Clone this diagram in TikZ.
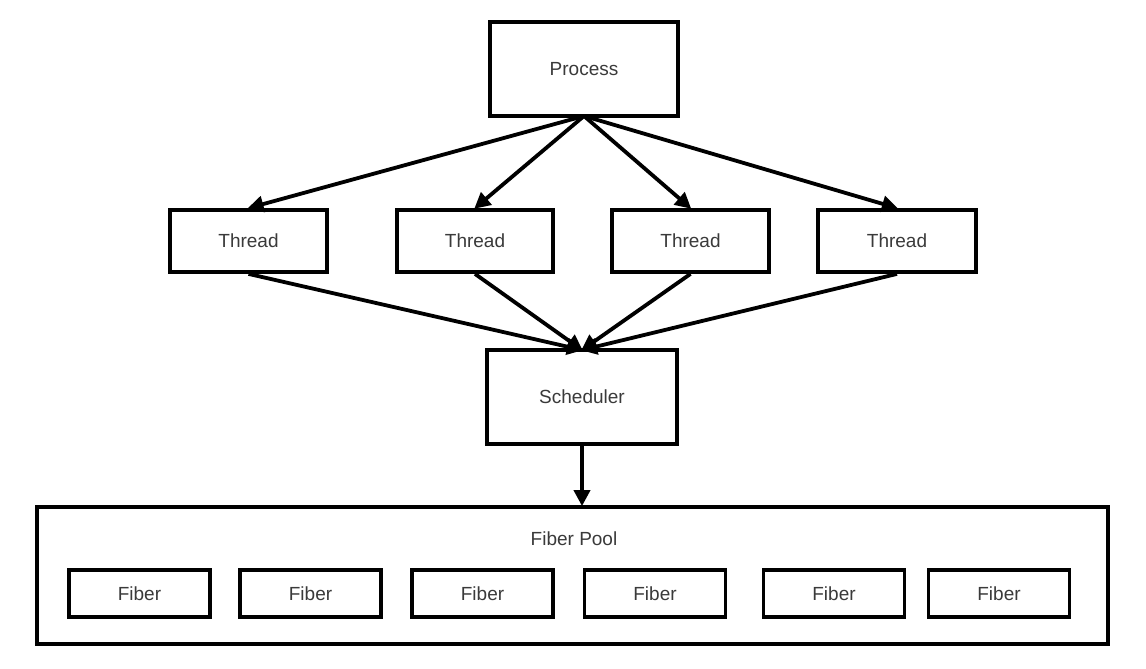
\documentclass[tikz,border=0pt]{standalone}
\usepackage{fontspec}
\setmainfont{Liberation Sans}
\usetikzlibrary{arrows.meta}
\definecolor{txt}{HTML}{3A3A3A}
\tikzset{
  box/.style={draw=black, line width=3.8pt, fill=white, inner sep=0pt, font=\fontsize{19}{21}\selectfont, text=txt},
  conn/.style={line width=3.8pt, -{Triangle[length=16pt, width=16pt]}, shorten >=-1pt},
}
\begin{document}
\begin{tikzpicture}[x=1pt, y=-1pt]
\useasboundingbox (0,0) rectangle (1146,669);
\node[box, minimum width=188pt, minimum height=94pt] (proc) at (584,69) {Process};
\node[box, minimum width=157pt, minimum height=62pt] (t1) at (248.5,241) {Thread};
\node[box, minimum width=156pt, minimum height=62pt] (t2) at (475,241) {Thread};
\node[box, minimum width=157pt, minimum height=62pt] (t3) at (690.5,241) {Thread};
\node[box, minimum width=158pt, minimum height=62pt] (t4) at (897,241) {Thread};
\node[box, minimum width=190pt, minimum height=94pt] (sch) at (582,397) {Scheduler};
\node[box, minimum width=1071pt, minimum height=137pt] (pool) at (572.5,575.5) {};
\node[font=\fontsize{19}{21}\selectfont, text=txt] (pooltxt) at (574,539) {Fiber Pool};
\foreach \i/\x in {1/139.5, 2/310.5, 3/482.5, 4/655, 5/834, 6/999}{
  \node[box, minimum width=141pt, minimum height=47pt] (f\i) at (\x,593.5) {Fiber};
}
\coordinate (ps) at (584,116);
\coordinate (st) at (582,350);
\foreach \t in {t1,t2,t3,t4}{
  \draw[conn] (ps) -- (\t.north);
  \draw[conn] (\t.south) -- (st);
}
\draw[conn] (sch.south) -- (pool.north -| sch.south);
\end{tikzpicture}
\end{document}
